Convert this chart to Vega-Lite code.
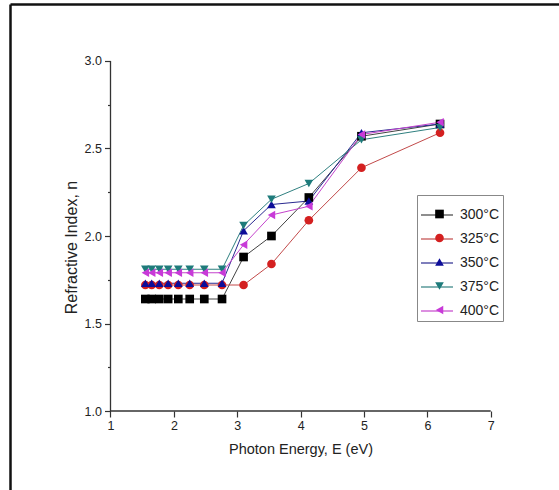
{
  "$schema": "https://vega.github.io/schema/vega-lite/v6.json",
  "width": 549,
  "height": 486,
  "autosize": {"type": "none"},
  "padding": {"left": 10, "top": 4, "right": 0, "bottom": 0},
  "background": "white",
  "config": {"view": {"stroke": null}, "font": "Liberation Sans"},
  "datasets": {
    "main": [
      {"E": 1.55, "n": 1.64, "T": "300°C"}, {"E": 1.65, "n": 1.64, "T": "300°C"}, {"E": 1.77, "n": 1.64, "T": "300°C"}, {"E": 1.91, "n": 1.64, "T": "300°C"}, {"E": 2.07, "n": 1.64, "T": "300°C"}, {"E": 2.25, "n": 1.64, "T": "300°C"}, {"E": 2.48, "n": 1.64, "T": "300°C"}, {"E": 2.76, "n": 1.64, "T": "300°C"}, {"E": 3.10, "n": 1.88, "T": "300°C"}, {"E": 3.54, "n": 2.00, "T": "300°C"}, {"E": 4.13, "n": 2.22, "T": "300°C"}, {"E": 4.96, "n": 2.57, "T": "300°C"}, {"E": 6.20, "n": 2.64, "T": "300°C"},
      {"E": 1.55, "n": 1.72, "T": "325°C"}, {"E": 1.65, "n": 1.72, "T": "325°C"}, {"E": 1.77, "n": 1.72, "T": "325°C"}, {"E": 1.91, "n": 1.72, "T": "325°C"}, {"E": 2.07, "n": 1.72, "T": "325°C"}, {"E": 2.25, "n": 1.72, "T": "325°C"}, {"E": 2.48, "n": 1.72, "T": "325°C"}, {"E": 2.76, "n": 1.72, "T": "325°C"}, {"E": 3.10, "n": 1.72, "T": "325°C"}, {"E": 3.54, "n": 1.84, "T": "325°C"}, {"E": 4.13, "n": 2.09, "T": "325°C"}, {"E": 4.96, "n": 2.39, "T": "325°C"}, {"E": 6.20, "n": 2.59, "T": "325°C"},
      {"E": 1.55, "n": 1.73, "T": "350°C"}, {"E": 1.65, "n": 1.73, "T": "350°C"}, {"E": 1.77, "n": 1.73, "T": "350°C"}, {"E": 1.91, "n": 1.73, "T": "350°C"}, {"E": 2.07, "n": 1.73, "T": "350°C"}, {"E": 2.25, "n": 1.73, "T": "350°C"}, {"E": 2.48, "n": 1.73, "T": "350°C"}, {"E": 2.76, "n": 1.73, "T": "350°C"}, {"E": 3.10, "n": 2.03, "T": "350°C"}, {"E": 3.54, "n": 2.18, "T": "350°C"}, {"E": 4.13, "n": 2.20, "T": "350°C"}, {"E": 4.96, "n": 2.59, "T": "350°C"}, {"E": 6.20, "n": 2.64, "T": "350°C"},
      {"E": 1.55, "n": 1.81, "T": "375°C"}, {"E": 1.65, "n": 1.81, "T": "375°C"}, {"E": 1.77, "n": 1.81, "T": "375°C"}, {"E": 1.91, "n": 1.81, "T": "375°C"}, {"E": 2.07, "n": 1.81, "T": "375°C"}, {"E": 2.25, "n": 1.81, "T": "375°C"}, {"E": 2.48, "n": 1.81, "T": "375°C"}, {"E": 2.76, "n": 1.81, "T": "375°C"}, {"E": 3.10, "n": 2.06, "T": "375°C"}, {"E": 3.54, "n": 2.21, "T": "375°C"}, {"E": 4.13, "n": 2.30, "T": "375°C"}, {"E": 4.96, "n": 2.55, "T": "375°C"}, {"E": 6.20, "n": 2.62, "T": "375°C"},
      {"E": 1.55, "n": 1.79, "T": "400°C"}, {"E": 1.65, "n": 1.79, "T": "400°C"}, {"E": 1.77, "n": 1.79, "T": "400°C"}, {"E": 1.91, "n": 1.79, "T": "400°C"}, {"E": 2.07, "n": 1.79, "T": "400°C"}, {"E": 2.25, "n": 1.79, "T": "400°C"}, {"E": 2.48, "n": 1.79, "T": "400°C"}, {"E": 2.76, "n": 1.79, "T": "400°C"}, {"E": 3.10, "n": 1.95, "T": "400°C"}, {"E": 3.54, "n": 2.12, "T": "400°C"}, {"E": 4.13, "n": 2.17, "T": "400°C"}, {"E": 4.96, "n": 2.58, "T": "400°C"}, {"E": 6.20, "n": 2.65, "T": "400°C"}
    ]
  },
  "data": {"name": "main"},
  "resolve": {"axis": {"x": "independent", "y": "independent"}},
  "layer": [
    {
      "data": {"values": [{}]},
      "mark": {"type": "rule", "color": "#333333", "strokeWidth": 1.3},
      "encoding": {
        "x": {"datum": 1, "type": "quantitative", "scale": {"domain": [-0.5859, 8.0775], "zero": false, "nice": false}, "axis": null},
        "x2": {"datum": 7},
        "y": {"datum": 1, "type": "quantitative", "scale": {"domain": [0.5486, 3.3257], "zero": false, "nice": false}, "axis": null}
      }
    },
    {
      "data": {"values": [{}]},
      "mark": {"type": "rule", "color": "#333333", "strokeWidth": 1.3},
      "encoding": {
        "x": {"datum": 1, "type": "quantitative", "scale": {"domain": [-0.5859, 8.0775], "zero": false, "nice": false}, "axis": null},
        "y": {"datum": 1, "type": "quantitative", "scale": {"domain": [0.5486, 3.3257], "zero": false, "nice": false}, "axis": null},
        "y2": {"datum": 3}
      }
    },
    {
      "mark": {"type": "line", "strokeWidth": 1},
      "encoding": {
        "x": {
          "field": "E", "type": "quantitative",
          "scale": {"domain": [-0.5859, 8.0775], "zero": false, "nice": false},
          "axis": {
            "orient": "bottom", "offset": -79, "domain": false, "grid": false,
            "values": [1, 1.5, 2, 2.5, 3, 3.5, 4, 4.5, 5, 5.5, 6, 6.5, 7],
            "format": "d",
            "labelExpr": "datum.value % 1 === 0 ? datum.label : ''",
            "tickColor": "#333333", "tickWidth": 1.2,
            "tickSize": {"condition": {"test": "datum.value % 1 === 0", "value": 6}, "value": 3},
            "labelFontSize": 12.5, "labelColor": "#222222", "labelPadding": 2,
            "title": "Photon Energy, E (eV)", "titleFontSize": 14.5, "titleFontWeight": "normal",
            "titleColor": "#222222", "titleX": 290.5, "titlePadding": 11
          }
        },
        "y": {
          "field": "n", "type": "quantitative",
          "scale": {"domain": [0.5486, 3.3257], "zero": false, "nice": false},
          "axis": {
            "orient": "left", "offset": -100.5, "domain": false, "grid": false,
            "values": [1, 1.25, 1.5, 1.75, 2, 2.25, 2.5, 2.75, 3],
            "format": ".1f",
            "labelExpr": "(datum.value * 2) % 1 === 0 ? datum.label : ''",
            "tickColor": "#333333", "tickWidth": 1.2,
            "tickSize": {"condition": {"test": "(datum.value * 2) % 1 === 0", "value": 6}, "value": 3},
            "labelFontSize": 12.5, "labelColor": "#222222", "labelPadding": 3,
            "title": "Refractive Index, n", "titleFontSize": 16, "titleFontWeight": "normal",
            "titleColor": "#222222", "titleY": 243, "titlePadding": 5
          }
        },
        "color": {
          "field": "T", "type": "nominal",
          "scale": {"range": ["#444444", "#c24a4a", "#2a2a90", "#2f8080", "#c444cc"]},
          "legend": {
            "title": null, "orient": "none", "legendX": 407, "legendY": 191,
            "symbolSize": 1024, "symbolStrokeWidth": 1.2,
            "labelFontSize": 14, "labelColor": "#222222", "labelOffset": 6,
            "padding": 3, "rowPadding": 0,
            "strokeColor": "#888888", "fillColor": "white"
          }
        }
      }
    },
    {
      "mark": {"type": "point", "filled": true, "size": 75, "opacity": 1, "strokeWidth": 0},
      "encoding": {
        "x": {
          "field": "E", "type": "quantitative",
          "scale": {"domain": [-0.5859, 8.0775], "zero": false, "nice": false},
          "axis": {"orient": "top", "domain": true, "domainColor": "#111111", "domainWidth": 2.5, "ticks": false, "labels": false, "grid": false, "title": null}
        },
        "y": {
          "field": "n", "type": "quantitative",
          "scale": {"domain": [0.5486, 3.3257], "zero": false, "nice": false},
          "axis": {"orient": "left", "offset": 0, "domain": true, "domainColor": "#111111", "domainWidth": 2.5, "ticks": false, "labels": false, "grid": false, "title": null}
        },
        "fill": {
          "field": "T", "type": "nominal",
          "scale": {"domain": ["300°C", "325°C", "350°C", "375°C", "400°C"], "range": ["#000000", "#d42020", "#0d0d99", "#1e7b7b", "#c83ad8"]},
          "legend": {
            "title": null, "orient": "none", "legendX": 417.5, "legendY": 198,
            "symbolSize": 75, "symbolStrokeWidth": 0,
            "labelFontSize": 14, "labelExpr": "''", "labelOffset": 6,
            "padding": 5, "rowPadding": 10
          }
        },
        "shape": {
          "field": "T", "type": "nominal",
          "scale": {"domain": ["300°C", "325°C", "350°C", "375°C", "400°C"], "range": ["square", "circle", "triangle-up", "triangle-down", "triangle-left"]},
          "legend": {
            "title": null, "orient": "none", "legendX": 417.5, "legendY": 198,
            "symbolSize": 75, "symbolStrokeWidth": 0,
            "labelFontSize": 14, "labelExpr": "''", "labelOffset": 6,
            "padding": 5, "rowPadding": 10
          }
        }
      }
    }
  ]
}
